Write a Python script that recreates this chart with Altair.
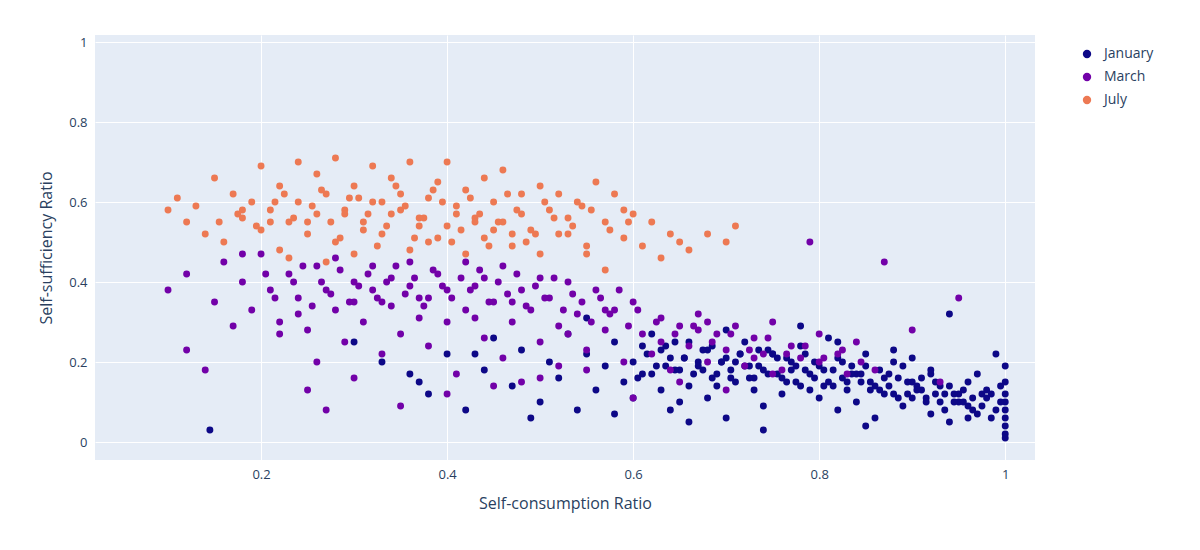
import altair as alt
import pandas as pd

jan_x = [0.145,0.30,0.33,0.36,0.38,0.40,0.42,0.44,0.45,0.47,0.48,0.50,0.51,0.52,0.53,0.54,0.55,0.56,0.57,0.58,0.59,0.60,0.60,0.61,0.62,0.62,0.63,0.64,0.64,0.65,0.66,0.66,0.67,0.68,0.68,0.69,0.70,0.70,0.71,0.72,0.72,0.73,0.74,0.74,0.75,0.76,0.76,0.77,0.78,0.78,0.79,0.80,0.80,0.81,0.82,0.82,0.83,0.84,0.84,0.85,0.86,0.86,0.87,0.88,0.88,0.89,0.90,0.90,0.91,0.92,0.92,0.93,0.94,0.94,0.95,0.96,0.96,0.97,0.98,0.98,0.99,1.0,1.0,1.0,1.0,1.0,1.0,1.0,1.0,1.0,0.99,0.97,0.95,0.93,0.91,0.89,0.87,0.85,0.83,0.81,0.79,0.77,0.75,0.73,0.71,0.69,0.67,0.65,0.63,0.61,0.85,0.88,0.92,0.96,0.70,0.66,0.74,0.78,0.58,0.55,0.49,0.43,0.37,0.90,0.94,0.82,
         0.605,0.615,0.635,0.645,0.655,0.675,0.685,0.695,0.705,0.715,0.725,0.735,0.745,0.755,0.765,0.775,0.785,0.795,0.805,0.815,0.825,0.835,0.845,0.855,0.865,0.875,0.885,0.895,0.905,0.915,0.925,0.935,0.945,0.955,0.965,0.975,0.985,0.995,0.995,0.985,0.975,0.965,0.955,0.945,0.935,0.925,0.915,0.905,0.895,0.885,0.875,0.865,0.855,0.845,0.835,0.825,0.815,0.805,0.795,0.785,0.775,0.765,0.755,0.745,0.735,0.725,0.715,0.705,0.695,0.685,0.675,0.665,0.655,0.645,0.635,0.625]
jan_y = [0.03,0.25,0.20,0.17,0.12,0.22,0.08,0.18,0.26,0.14,0.23,0.10,0.20,0.16,0.27,0.08,0.22,0.13,0.19,0.25,0.15,0.20,0.11,0.24,0.17,0.27,0.13,0.21,0.08,0.18,0.25,0.14,0.20,0.11,0.23,0.17,0.21,0.06,0.15,0.19,0.25,0.13,0.18,0.09,0.22,0.16,0.12,0.20,0.14,0.24,0.17,0.11,0.19,0.15,0.08,0.21,0.13,0.17,0.10,0.19,0.14,0.06,0.16,0.12,0.20,0.09,0.15,0.11,0.13,0.07,0.17,0.10,0.14,0.05,0.12,0.09,0.15,0.07,0.11,0.13,0.08,0.19,0.15,0.12,0.10,0.08,0.06,0.04,0.02,0.01,0.22,0.17,0.10,0.14,0.16,0.19,0.12,0.22,0.15,0.26,0.13,0.18,0.22,0.16,0.20,0.14,0.19,0.10,0.23,0.17,0.04,0.23,0.18,0.06,0.28,0.05,0.03,0.29,0.07,0.31,0.06,0.22,0.15,0.21,0.32,0.25,
         0.16,0.22,0.19,0.25,0.21,0.18,0.24,0.20,0.16,0.22,0.19,0.23,0.17,0.21,0.15,0.19,0.22,0.16,0.18,0.14,0.20,0.17,0.15,0.13,0.18,0.14,0.16,0.12,0.14,0.11,0.15,0.12,0.10,0.13,0.11,0.09,0.12,0.10,0.14,0.06,0.12,0.08,0.10,0.12,0.08,0.12,0.10,0.13,0.15,0.11,0.17,0.13,0.15,0.17,0.19,0.16,0.18,0.14,0.20,0.18,0.15,0.21,0.17,0.23,0.19,0.16,0.22,0.18,0.20,0.16,0.23,0.17,0.21,0.18,0.24,0.19]

mar_x = [0.10,0.12,0.12,0.14,0.15,0.16,0.17,0.18,0.19,0.20,0.21,0.22,0.23,0.24,0.25,0.26,0.26,0.27,0.28,0.28,0.29,0.30,0.30,0.31,0.32,0.32,0.33,0.34,0.34,0.35,0.36,0.36,0.37,0.38,0.38,0.39,0.40,0.40,0.41,0.42,0.42,0.43,0.44,0.44,0.45,0.46,0.46,0.47,0.48,0.48,0.49,0.50,0.50,0.51,0.52,0.52,0.53,0.54,0.55,0.56,0.57,0.58,0.59,0.60,0.61,0.62,0.63,0.64,0.65,0.66,0.67,0.68,0.69,0.70,0.71,0.72,0.73,0.74,0.75,0.76,0.77,0.78,0.79,0.80,0.82,0.84,0.87,0.90,0.95,0.27,0.25,0.30,0.35,0.40,0.45,0.50,0.55,0.60,0.65,0.70,0.75,0.80,0.22,0.33,0.43,0.53,0.63,0.73,0.83,0.93,0.18,0.24,0.37,0.47,0.57,0.67,0.86,0.68,
         0.205,0.215,0.235,0.245,0.255,0.265,0.275,0.285,0.295,0.305,0.315,0.325,0.335,0.345,0.355,0.365,0.375,0.385,0.395,0.405,0.415,0.425,0.435,0.445,0.455,0.465,0.475,0.485,0.495,0.505,0.515,0.525,0.535,0.545,0.555,0.565,0.575,0.585,0.595,0.605,0.625,0.645,0.665,0.685,0.705,0.725,0.745,0.765,0.785,0.805,0.825,0.845]
mar_y = [0.38,0.23,0.42,0.18,0.35,0.45,0.29,0.40,0.33,0.47,0.38,0.30,0.42,0.36,0.28,0.44,0.20,0.38,0.33,0.46,0.25,0.40,0.35,0.30,0.44,0.38,0.22,0.41,0.34,0.27,0.45,0.39,0.31,0.36,0.24,0.42,0.38,0.30,0.17,0.45,0.33,0.39,0.26,0.41,0.35,0.21,0.44,0.30,0.38,0.15,0.33,0.41,0.25,0.36,0.29,0.19,0.40,0.32,0.23,0.38,0.28,0.33,0.20,0.35,0.27,0.22,0.31,0.18,0.29,0.24,0.32,0.20,0.27,0.23,0.29,0.19,0.26,0.22,0.30,0.18,0.24,0.21,0.50,0.27,0.22,0.25,0.45,0.28,0.36,0.08,0.13,0.16,0.09,0.12,0.14,0.16,0.18,0.11,0.15,0.13,0.17,0.20,0.27,0.35,0.31,0.27,0.25,0.21,0.17,0.15,0.47,0.32,0.36,0.35,0.33,0.28,0.18,0.30,
         0.42,0.36,0.40,0.44,0.34,0.40,0.37,0.43,0.35,0.39,0.42,0.36,0.40,0.44,0.37,0.41,0.34,0.43,0.39,0.36,0.41,0.38,0.43,0.35,0.40,0.37,0.42,0.34,0.39,0.36,0.41,0.33,0.37,0.35,0.30,0.36,0.32,0.38,0.29,0.33,0.30,0.27,0.29,0.25,0.27,0.23,0.26,0.22,0.24,0.21,0.23,0.20]

jul_x = [0.10,0.11,0.12,0.13,0.14,0.15,0.16,0.17,0.18,0.19,0.20,0.20,0.21,0.22,0.22,0.23,0.24,0.24,0.25,0.26,0.26,0.27,0.28,0.28,0.29,0.30,0.30,0.31,0.32,0.32,0.33,0.34,0.34,0.35,0.36,0.36,0.37,0.38,0.38,0.39,0.40,0.40,0.41,0.42,0.42,0.43,0.44,0.44,0.45,0.46,0.46,0.47,0.48,0.48,0.49,0.50,0.50,0.51,0.52,0.52,0.53,0.54,0.55,0.56,0.57,0.58,0.59,0.60,0.61,0.62,0.63,0.64,0.65,0.66,0.68,0.70,0.71,0.25,0.29,0.33,0.37,0.41,0.45,0.31,0.35,0.39,0.43,0.47,0.23,0.27,0.18,0.21,0.57,0.59,0.53,0.55,
         0.155,0.175,0.195,0.215,0.235,0.255,0.275,0.295,0.315,0.335,0.355,0.375,0.395,0.415,0.435,0.455,0.475,0.495,0.515,0.535,0.555,0.575,0.595,0.225,0.265,0.305,0.345,0.385,0.425,0.465,0.505,0.545,0.285,0.325,0.365,0.405,0.445,0.485]
jul_y = [0.58,0.61,0.55,0.59,0.52,0.66,0.50,0.62,0.56,0.60,0.69,0.53,0.58,0.64,0.48,0.55,0.70,0.60,0.52,0.67,0.57,0.62,0.50,0.71,0.58,0.64,0.47,0.55,0.69,0.60,0.52,0.66,0.57,0.62,0.48,0.70,0.56,0.61,0.50,0.65,0.54,0.70,0.59,0.47,0.63,0.56,0.66,0.51,0.60,0.55,0.68,0.49,0.62,0.57,0.53,0.64,0.47,0.58,0.52,0.62,0.56,0.60,0.49,0.65,0.55,0.62,0.51,0.57,0.49,0.55,0.46,0.52,0.50,0.48,0.52,0.50,0.54,0.55,0.57,0.60,0.54,0.57,0.53,0.53,0.58,0.51,0.55,0.52,0.46,0.45,0.58,0.55,0.43,0.58,0.52,0.47,
         0.55,0.57,0.54,0.60,0.56,0.59,0.55,0.61,0.57,0.54,0.59,0.56,0.60,0.53,0.57,0.55,0.58,0.52,0.56,0.54,0.58,0.53,0.55,0.62,0.63,0.61,0.64,0.63,0.61,0.62,0.60,0.59,0.51,0.49,0.51,0.50,0.49,0.50]

rows = []
for name, xs, ys in [("January", jan_x, jan_y), ("March", mar_x, mar_y), ("July", jul_x, jul_y)]:
    for a, b in zip(xs, ys):
        rows.append({"x": a, "y": b, "month": name})
df = pd.DataFrame(rows)
order = {"January": 0, "March": 1, "July": 2}
df["o"] = df["month"].map(order)

chart = alt.Chart(df).mark_circle(size=48, opacity=1).encode(
    x=alt.X("x:Q", title="Self-consumption Ratio", scale=alt.Scale(domain=[0.0215, 1.032], nice=False, zero=False),
            axis=alt.Axis(values=[0.2, 0.4, 0.6, 0.8, 1.0], format="~g", titlePadding=14)),
    y=alt.Y("y:Q", title="Self-sufficiency Ratio", scale=alt.Scale(domain=[-0.045, 1.0175], nice=False),
            axis=alt.Axis(values=[0, 0.2, 0.4, 0.6, 0.8, 1.0], format="~g", titlePadding=14)),
    color=alt.Color("month:N", sort=["January", "March", "July"],
                    scale=alt.Scale(domain=["January", "March", "July"], range=["#0d0887", "#7201a8", "#ed7953"]),
                    legend=alt.Legend(title=None, orient="none", legendX=985, legendY=12, symbolSize=70,
                                      labelFontSize=14, labelColor="#2a3f5f", rowPadding=9, labelOffset=10)),
    order="o:Q",
).properties(width=940, height=425, padding={"left": 87, "top": 27, "right": 150, "bottom": 80},
             autosize=alt.AutoSizeParams(type="none")).configure_view(fill="#E5ECF6", stroke=None).configure_axis(
    grid=True, gridColor="white", gridWidth=1, domain=False, ticks=False, labelColor="#2a3f5f",
    titleColor="#2a3f5f", labelFontSize=13, titleFontSize=16, titleFontWeight="normal",
    labelFont="Open Sans", titleFont="Open Sans", labelPadding=8).configure_legend(labelFont="Open Sans")

chart.save("out.html", embed_options={"renderer": "svg", "actions": False})
